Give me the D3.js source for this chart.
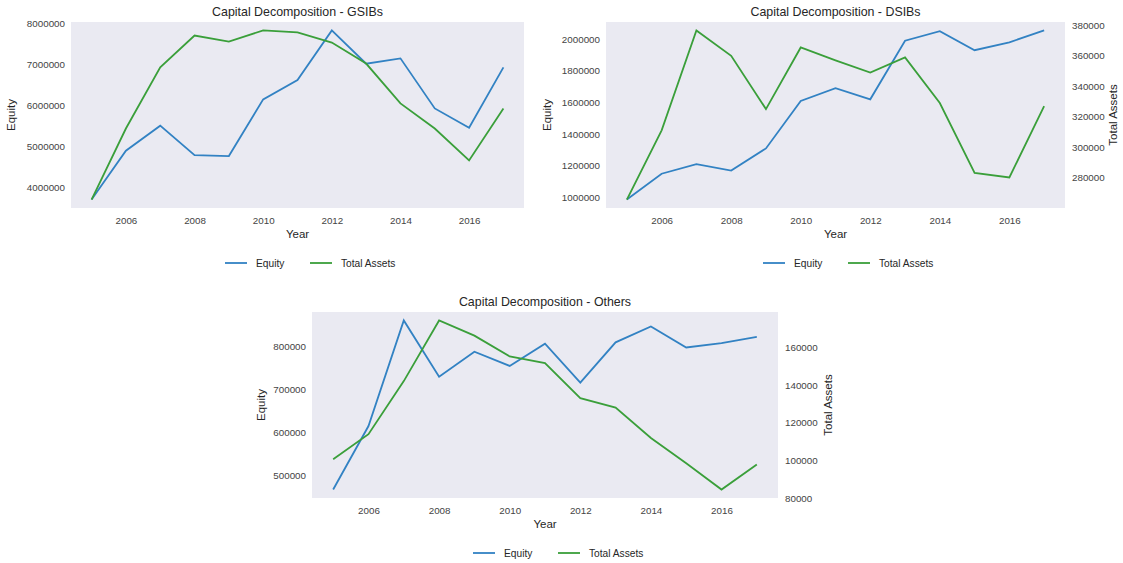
<!DOCTYPE html>
<html><head><meta charset="utf-8">
<script src="https://cdn.jsdelivr.net/npm/d3@7"></script>
<style>
body{margin:0;background:#fff;}
text{font-family:"Liberation Sans",Arial,sans-serif;}
</style></head><body>
<svg id="chart" width="1123" height="563"></svg>
<script>
const years = [2005,2006,2007,2008,2009,2010,2011,2012,2013,2014,2015,2016,2017];
const xTicks = [2006,2008,2010,2012,2014,2016];

const gsibEquity = [3710000,4900000,5510000,4790000,4770000,6150000,6620000,7830000,7020000,7150000,5930000,5460000,6930000];
const gsibAssets = [1000000,1294000,1547000,1679000,1654000,1700000,1692000,1650000,1563000,1398000,1294000,1162000,1377000];
const gsibEquityTicks = [4000000,5000000,6000000,7000000,8000000];

const dsibEquity = [987000,1150000,1210000,1170000,1310000,1610000,1690000,1620000,1990000,2050000,1930000,1980000,2055000];
const dsibAssets = [265500,311000,376700,360000,325000,365500,357000,349000,359000,329000,283000,280000,327000];
const dsibEquityTicks = [1000000,1200000,1400000,1600000,1800000,2000000];
const dsibAssetsTicks = [280000,300000,320000,340000,360000,380000];

const othEquity = [467000,615000,861000,730000,788000,755000,807000,716000,810000,847000,798000,808000,823000];
const othAssets = [100800,114000,142000,174000,166000,155000,151500,133000,128000,112000,98700,84800,98000];
const othEquityTicks = [500000,600000,700000,800000];
const othAssetsTicks = [80000,100000,120000,140000,160000];

const titles = ["Capital Decomposition - GSIBs","Capital Decomposition - DSIBs","Capital Decomposition - Others"];
const seriesNames = ["Equity","Total Assets"];

const BLUE = "#3282c3", GREEN = "#3a9f3a", BG = "#eaeaf2", TXT = "#262626", TICK = "#444";
const svg = d3.select("#chart");

function padDomain(vals){
  const [a,b] = d3.extent(vals); const m = (b-a)*0.05; return [a-m,b+m];
}

function panel(o){
  const g = svg.append("g");
  const {x0,x1,y0,y1} = o;
  g.append("rect").attr("x",x0).attr("y",y0).attr("width",x1-x0).attr("height",y1-y0).attr("fill",BG);
  const x = d3.scaleLinear().domain(padDomain(years)).range([x0,x1]);
  const yL = d3.scaleLinear().domain(padDomain(o.eq)).range([y1,y0]);
  const yR = d3.scaleLinear().domain(padDomain(o.ta)).range([y1,y0]);

  const ax = g.append("g").attr("transform",`translate(0,${y1})`)
    .call(d3.axisBottom(x).tickValues(xTicks).tickFormat(d3.format("d")).tickSize(0).tickPadding(9));
  const ay = g.append("g").attr("transform",`translate(${x0},0)`)
    .call(d3.axisLeft(yL).tickValues(o.eqTicks).tickFormat(d3.format("d")).tickSize(0).tickPadding(6));
  [ax,ay].forEach(a=>{a.select(".domain").remove();a.selectAll("text").attr("font-size",9.8).attr("fill",TICK).attr("font-family","Liberation Sans, Arial, sans-serif");});
  if(o.taTicks){
    const ar = g.append("g").attr("transform",`translate(${x1},0)`)
      .call(d3.axisRight(yR).tickValues(o.taTicks).tickFormat(d3.format("d")).tickSize(0).tickPadding(7));
    ar.select(".domain").remove();
    ar.selectAll("text").attr("font-size",9.8).attr("fill",TICK).attr("font-family","Liberation Sans, Arial, sans-serif");
    g.append("text").attr("transform",`translate(${o.rLabelX},${(y0+y1)/2}) rotate(-90)`)
      .attr("text-anchor","middle").attr("font-size",11.5).attr("fill",TXT).text("Total Assets");
  }
  g.append("text").attr("transform",`translate(${o.lLabelX},${(y0+y1)/2}) rotate(-90)`)
    .attr("text-anchor","middle").attr("font-size",11.5).attr("fill",TXT).text("Equity");
  g.append("text").attr("x",(x0+x1)/2).attr("y",y1+30).attr("text-anchor","middle")
    .attr("font-size",11.5).attr("fill",TXT).text("Year");
  g.append("text").attr("x",(x0+x1)/2).attr("y",y0-6).attr("text-anchor","middle")
    .attr("font-size",12.4).attr("fill",TXT).text(o.title);

  const lineL = d3.line().x((d,i)=>x(years[i])).y(d=>yL(d));
  const lineR = d3.line().x((d,i)=>x(years[i])).y(d=>yR(d));
  g.append("path").datum(o.eq).attr("d",lineL).attr("fill","none").attr("stroke",BLUE).attr("stroke-width",1.8);
  g.append("path").datum(o.ta).attr("d",lineR).attr("fill","none").attr("stroke",GREEN).attr("stroke-width",1.8);

  const lg = g.append("g").attr("transform",`translate(${o.legX},${o.legY})`);
  const items = [{n:seriesNames[0],c:BLUE,dx:0},{n:seriesNames[1],c:GREEN,dx:85}];
  items.forEach(it=>{
    lg.append("line").attr("x1",it.dx).attr("x2",it.dx+22).attr("y1",0).attr("y2",0).attr("stroke",it.c).attr("stroke-width",1.8);
    lg.append("text").attr("x",it.dx+31).attr("y",3.5).attr("font-size",10.2).attr("fill",TXT).text(it.n);
  });
}

panel({x0:71,x1:524,y0:22,y1:208,eq:gsibEquity,ta:gsibAssets,eqTicks:gsibEquityTicks,taTicks:null,
  lLabelX:15,title:titles[0],legX:225,legY:263});
panel({x0:606,x1:1065,y0:22,y1:208,eq:dsibEquity,ta:dsibAssets,eqTicks:dsibEquityTicks,taTicks:dsibAssetsTicks,
  lLabelX:551,rLabelX:1117,title:titles[1],legX:763,legY:263});
panel({x0:312,x1:778,y0:312,y1:498,eq:othEquity,ta:othAssets,eqTicks:othEquityTicks,taTicks:othAssetsTicks,
  lLabelX:265,rLabelX:832,title:titles[2],legX:473,legY:553});
</script></body></html>
